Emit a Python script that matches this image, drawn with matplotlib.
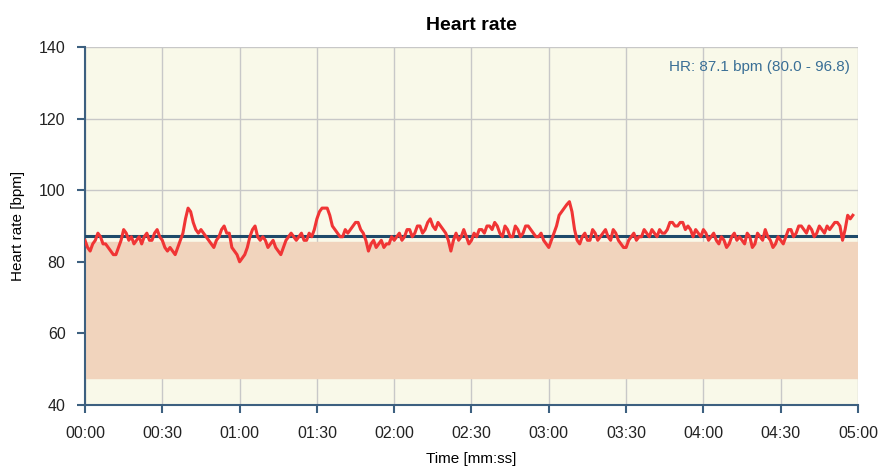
import matplotlib.pyplot as plt
import numpy as np

plt.rcParams['font.family'] = ['Liberation Sans', 'DejaVu Sans']

# Heart rate samples: even seconds and odd seconds
hr_even = [86, 83, 86, 87, 85, 83, 82, 86, 88, 87,
           86, 85, 88, 86, 89, 86, 83, 83, 84, 88,
           95, 91, 88, 88, 86, 84, 87, 90, 88, 83,
           80, 82, 87, 90, 86, 86, 85, 84, 82, 86,
           88, 86, 88, 86, 87, 92, 95, 95, 90, 88,
           87, 88, 90, 91, 88, 83, 86, 85, 84, 85,
           86, 88, 87, 89, 88, 90, 89, 92, 89, 90,
           88, 83, 88, 87, 87, 86, 87, 89, 90, 89,
           90, 87, 89, 87, 89, 88, 90, 88, 87, 86,
           84, 88, 93, 95, 96.8, 89, 85, 88, 86, 88,
           87, 89, 86, 88, 85, 84, 87, 86, 87, 88,
           89, 87, 88, 89, 91, 90, 91, 90, 87, 88,
           89, 86, 88, 85, 86, 85, 88, 87, 85, 87,
           85, 87, 89, 86, 85, 86, 87, 89, 88, 90,
           88, 89, 88, 89, 90, 90, 91, 86, 93, 93]
hr_odd = [84, 85, 88, 85, 84, 82, 84, 89, 86, 85,
          87, 87, 86, 88, 87, 84, 84, 82, 86, 92,
          94, 89, 89, 87, 85, 86, 89, 88, 84, 82,
          81, 84, 89, 87, 87, 84, 86, 83, 84, 87,
          87, 87, 86, 88, 89, 94, 95, 93, 89, 87,
          89, 89, 91, 89, 86, 85, 84, 86, 85, 87,
          87, 86, 89, 87, 90, 88, 91, 90, 91, 89,
          86, 86, 86, 89, 85, 88, 89, 88, 90, 91,
          88, 90, 87, 90, 87, 90, 89, 87, 88, 85,
          86, 90, 94, 96, 94, 86, 87, 86, 89, 86,
          88, 87, 89, 86, 84, 86, 88, 87, 89, 87,
          88, 89, 88, 91, 90, 91, 89, 89, 89, 87,
          88, 87, 86, 87, 84, 87, 86, 86, 88, 84,
          88, 86, 87, 84, 87, 85, 89, 87, 90, 89,
          90, 87, 90, 88, 89, 91, 90, 89, 92]
hr_mean = 87.1
zone_low = 47.5
zone_high = 85.6

hr = []
for i in range(len(hr_even)):
    hr.append(hr_even[i])
    if i < len(hr_odd):
        hr.append(hr_odd[i])
t_sec = np.arange(len(hr))

fig = plt.figure(figsize=(8.79, 4.74), dpi=100)
ax = fig.add_axes([0.0967, 0.1456, 0.8794, 0.7552])
ax.set_facecolor('#f9f9e9')

ax.axhspan(zone_low, zone_high, color='#f1d4bd', zorder=1)
ax.grid(True, color='#c8c8c8', linewidth=1, zorder=2)
ax.set_axisbelow(True)
ax.axhline(hr_mean, color='#1f4a6a', linewidth=2.2, zorder=3)
ax.plot(t_sec, hr, color='#f03535', linewidth=2.2, zorder=4)

ax.set_xlim(0, 300)
ax.set_ylim(40, 140)
ticks = np.arange(0, 301, 30)
ax.set_xticks(ticks)
ax.set_xticklabels(['%02d:%02d' % (s // 60, s % 60) for s in ticks])
ax.set_yticks(np.arange(40, 141, 20))

for side in ['top', 'right']:
    ax.spines[side].set_visible(False)
for side in ['left', 'bottom']:
    ax.spines[side].set_color('#3d6080')
    ax.spines[side].set_linewidth(1.5)
ax.tick_params(axis='both', colors='#3d6080', width=1.5, length=6,
               labelcolor='#222222', labelsize=11.5)
ax.tick_params(axis='x', pad=9)
ax.tick_params(axis='y', pad=8)

ax.set_xlabel('Time [mm:ss]', fontsize=11, labelpad=8)
ax.set_ylabel('Heart rate [bpm]', fontsize=11, labelpad=10)
ax.set_title('Heart rate', fontsize=14, fontweight='bold', pad=12)
ax.text(0.99, 0.945, 'HR: 87.1 bpm (80.0 - 96.8)', transform=ax.transAxes,
        ha='right', va='center', color='#3a6f96', fontsize=11)

fig.savefig('out.png', dpi=100)
